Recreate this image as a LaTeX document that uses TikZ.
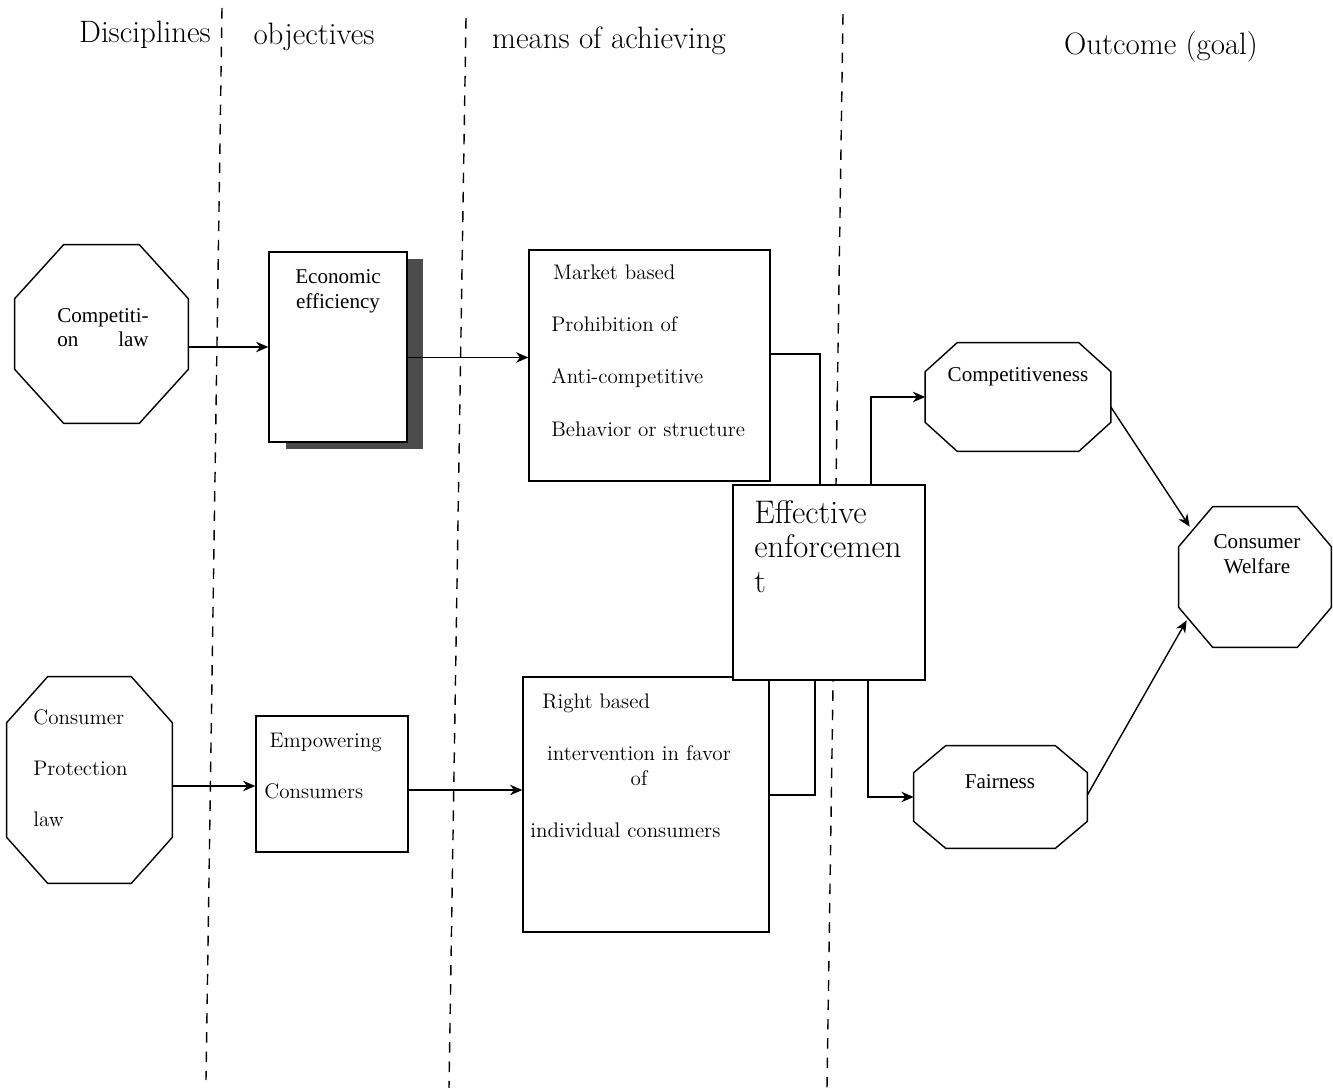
\documentclass[tikz,border=0pt]{standalone}
\usepackage{fontspec}
\newfontfamily\tnrfont{Liberation Serif}[Ligatures=TeX]
\usetikzlibrary{arrows.meta}
\usetikzlibrary{shadows}
\tikzset{>={Stealth[length=7pt,width=6pt]}}
\tikzstyle{divider}=[draw=black,line width=0.8pt,dash pattern=on 6pt off 5pt]
\tikzstyle{octagon}=[rectangle,draw=none,inner sep=0pt]
\tikzstyle{octline}=[draw=black,fill=white,line width=0.8pt,line join=miter]
\tikzstyle{panel}=[rectangle,draw=black,fill=white,line width=0.8pt,inner sep=0pt]
\tikzstyle{link}=[draw=black,line width=0.8pt]
\tikzstyle{headtxt}=[inner sep=0pt,font=\fontsize{17.6}{20}\selectfont]
\tikzstyle{cambtxt}=[inner sep=0pt,align=left,font=\fontsize{12}{14}\selectfont]
\tikzstyle{timestxt}=[inner sep=0pt,align=center,font=\tnrfont\fontsize{12}{14.2}\selectfont]

% octagon outline round a named node: name, cut in x, cut in y
\newcommand{\drawoctagon}[3]{%
  \draw[octline] ([xshift=#2]#1.north west) -- ([xshift=-#2]#1.north east)
    -- ([yshift=-#3]#1.north east) -- ([yshift=#3]#1.south east)
    -- ([xshift=-#2]#1.south east) -- ([xshift=#2]#1.south west)
    -- ([yshift=#3]#1.south west) -- ([yshift=-#3]#1.north west) -- cycle;}

\begin{document}
\begin{tikzpicture}[x=0.02cm,y=-0.02cm]
  \useasboundingbox (0,0) rectangle (1333,1088);

  % column dividers
  \draw[divider] (222,8) -- (206,1080);
  \draw[divider] (466,18) -- (449,1088);
  \draw[divider] (843,14) -- (827,1088);

  % column heads
  \node[headtxt,anchor=base] (hdisc) at (145,43) {Disciplines};
  \node[headtxt,anchor=base] (hobj) at (314,45) {objectives};
  \node[headtxt,anchor=base] (hmeans) at (609,49) {means of achieving};
  \node[headtxt,anchor=base] (hout) at (1161,55) {Outcome (goal)};

  % disciplines
  \node[octagon,minimum width=3.46cm,minimum height=3.56cm] (comp) at (101.5,334) {};
  \drawoctagon{comp}{0.98cm}{1.08cm}
  \node[timestxt,anchor=base west,text width=52pt,align=left] (comptxt) at (57,322)
    {Competiti-\\on\hfill law};
  \node[octagon,minimum width=3.3cm,minimum height=4.12cm] (cpl) at (89.5,780) {};
  \drawoctagon{cpl}{0.82cm}{0.92cm}
  \node[cambtxt,anchor=base west,font=\fontsize{12}{29}\selectfont] (cpltxt) at (33,826)
    {Consumer\\Protection\\law};

  % objectives
  \node[panel,minimum width=2.76cm,minimum height=3.8cm,
    drop shadow={shadow xshift=0.33cm,shadow yshift=-0.14cm,fill=black!70,opacity=1}] (econ) at (338,347) {};
  \node[timestxt,anchor=base] (econtxt) at (338,308) {Economic\\efficiency};
  \node[panel,minimum width=3.04cm,minimum height=2.72cm] (empw) at (332,784) {};
  \node[cambtxt,anchor=base west,font=\fontsize{12}{28.5}\selectfont] (empwtxt) at (264,798)
    {\hspace*{3pt}Empowering\\Consumers};

  % means of achieving
  \node[panel,minimum width=4.82cm,minimum height=4.62cm] (market) at (649.5,365.5) {};
  \node[cambtxt,anchor=base west,font=\fontsize{12}{29.6}\selectfont] (markettxt) at (551,436)
    {\hspace*{1pt}Market based\\Prohibition of\\Anti-competitive\\Behavior or structure};
  \node[panel,minimum width=4.92cm,minimum height=5.1cm] (rightb) at (646,804.5) {};
  \node[cambtxt,anchor=base west] (rightbtxt1) at (542,708) {Right based};
  \node[cambtxt,anchor=base,align=center,font=\fontsize{12}{14}\selectfont] (rightbtxt2) at (639,785)
    {intervention in favor\\of};
  \node[cambtxt,anchor=base west] (rightbtxt3) at (530,837) {individual consumers};

  % effective enforcement
  \node[panel,minimum width=3.84cm,minimum height=3.9cm] (enforce) at (829,582.5) {};
  \node[cambtxt,anchor=base west,font=\fontsize{18.6}{19.6}\selectfont] (enforcetxt) at (754,592)
    {Effective\\enforcemen\\t};

  % outcome
  \node[octagon,minimum width=3.7cm,minimum height=2.16cm] (comptv) at (1018,397) {};
  \drawoctagon{comptv}{0.64cm}{0.58cm}
  \node[timestxt,anchor=base] (comptvtxt) at (1018,381) {Competitiveness};
  \node[octagon,minimum width=3.46cm,minimum height=2.04cm] (fair) at (1000.5,797) {};
  \drawoctagon{fair}{0.64cm}{0.54cm}
  \node[timestxt,anchor=base] (fairtxt) at (1000,788) {Fairness};
  \node[octagon,minimum width=3.04cm,minimum height=2.8cm] (welfare) at (1255,577) {};
  \drawoctagon{welfare}{0.68cm}{0.8cm}
  \node[timestxt,anchor=base] (welfaretxt) at (1257,573) {Consumer\\Welfare};

  % connectors
  \draw[link,->] ([yshift=-0.26cm]comp.east) -- ([yshift=-0.26cm]comp.east -| econ.west);
  \draw[link,->] ([yshift=-0.21cm]econ.east) -- ([yshift=-0.21cm]econ.east -| market.west);
  \draw[link,->] ([yshift=-0.12cm]cpl.east) -- ([yshift=-0.12cm]cpl.east -| empw.west);
  \draw[link,->] ([yshift=-0.12cm]empw.east) -- ([yshift=-0.12cm]empw.east -| rightb.west);
  \draw[link] ([yshift=0.23cm]market.east) -| ([xshift=-0.18cm]enforce.north);
  \draw[link] ([yshift=0.19cm]rightb.east) -| ([xshift=-0.28cm]enforce.south);
  \draw[link,->] ([xshift=0.84cm]enforce.north) |- (comptv.west);
  \draw[link,->] ([xshift=0.78cm]enforce.south) |- (fair.west);
  \draw[link,->] ([yshift=-0.2cm]comptv.east) -- ([xshift=0.22cm,yshift=-0.4cm]welfare.north west);
  \draw[link,->] ([yshift=0.04cm]fair.east) -- ([xshift=0.16cm,yshift=0.54cm]welfare.south west);
\end{tikzpicture}
\end{document}
